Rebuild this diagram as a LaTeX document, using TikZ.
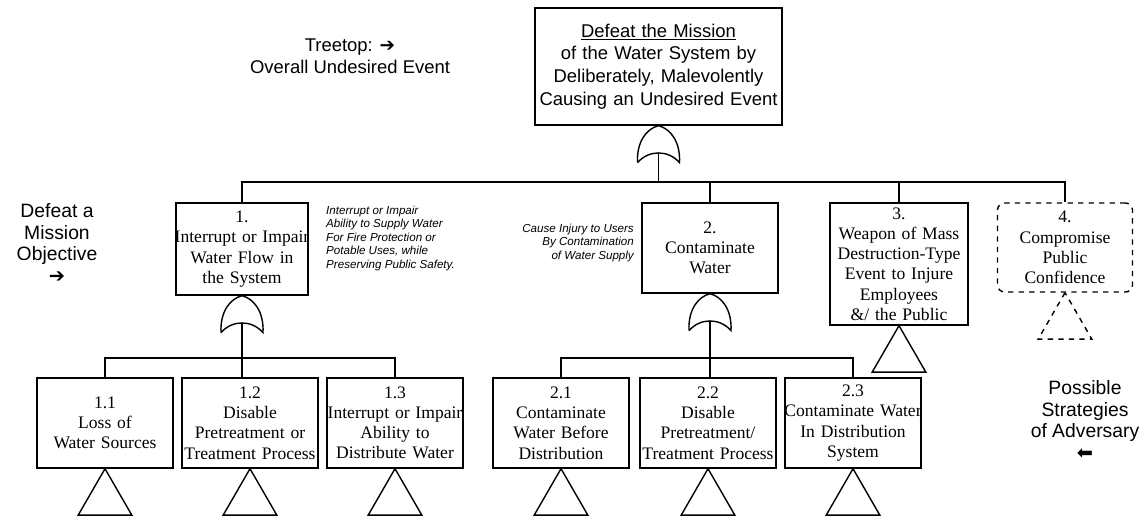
\documentclass[tikz,border=0pt]{standalone}
\usepackage{fontspec}
\setmainfont{Liberation Serif}
\setsansfont{Liberation Sans}
\newfontfamily\arrowfont{DejaVu Sans}
\usetikzlibrary{shapes.geometric}

% OR gate pointing up, apex at #1; stem coordinate #1s
\newcommand{\orgate}[1]{%
  \draw[gate, shift={(#1)}] (-21,37) .. controls (-22,16) and (-12,3) .. (0,0)
    .. controls (12,3) and (22,16) .. (21,37)
    .. controls (10,24) and (-10,24) .. (-21,37);
  \path[shift={(#1)}] (0,27) coordinate (#1s);}
% a line that may run to the box edges
\newcommand{\fitline}[1]{\makebox[\linewidth]{#1}}

\begin{document}
\begin{tikzpicture}[x=0.02cm, y=-0.02cm,
    evt/.style={draw, line width=0.8pt, align=center, inner sep=0pt,
      font=\fontsize{10}{11.5}\selectfont},
    lowbox/.style={evt, text width=2.72cm, minimum height=1.8cm},
    note/.style={font=\sffamily\fontsize{10.5}{12.5}\selectfont, align=center},
    aside/.style={font=\sffamily\itshape\fontsize{6.6}{7.6}\selectfont},
    link/.style={line width=0.8pt},
    gate/.style={line width=0.8pt},
    tri/.style={draw, line width=0.8pt, regular polygon, regular polygon sides=3,
      minimum size=1.24cm, inner sep=0pt, outer sep=0pt, anchor=corner 1}]
    \useasboundingbox (0,0) rectangle (1141,523);

    % treetop
    \node[evt, font=\sffamily\fontsize{10.5}{13}\selectfont, text width=4.94cm,
        minimum height=2.34cm] (top) at (658.5,66.5)
        {\underline{Defeat the Mission}\\of the Water System by\\Deliberately, Malevolently\\Causing an Undesired Event};
    \coordinate (g0) at (top.south);
    \orgate{g0}
    \coordinate (bus0) at (0,182);

    % mission objectives
    \node[evt, text width=2.64cm, minimum height=1.84cm] (m1) at (242,249)
        {1.\\\fitline{Interrupt or Impair}\\Water Flow in\\the System};
    \node[evt, text width=2.72cm, minimum height=1.8cm] (m2) at (710,248)
        {2.\\Contaminate\\Water};
    \node[evt, text width=2.76cm, minimum height=2.44cm] (m3) at (899,264)
        {3.\\Weapon of Mass\\\fitline{Destruction-Type}\\Event to Injure\\Employees\\\&/ the Public};
    \node[evt, dashed, rounded corners=4pt, text width=2.7cm, minimum height=1.78cm] (m4) at (1065,247.5)
        {4.\\Compromise\\Public\\Confidence};

    \draw[link] (g0s) -- (g0s |- bus0);
    \draw[link] (m1.north) -- (m1.north |- bus0) -- (m4.north |- bus0) -- (m4.north);
    \draw[link] (m2.north) -- (m2.north |- bus0);
    \draw[link] (m3.north) -- (m3.north |- bus0);

    \node[tri] (t3) at (m3.south) {};
    \node[tri, dashed] (t4) at (m4.south) {};

    % strategies
    \node[lowbox] (b11) at (105,423) {1.1\\Loss of\\Water Sources};
    \node[lowbox] (b12) at (250,423) {1.2\\Disable\\Pretreatment or\\\fitline{Treatment Process}};
    \node[lowbox] (b13) at (395,423) {1.3\\\fitline{Interrupt or Impair}\\Ability to\\Distribute Water};
    \node[lowbox] (b21) at (561,423) {2.1\\Contaminate\\Water Before\\Distribution};
    \node[lowbox] (b22) at (708,423) {2.2\\Disable\\Pretreatment/\\\fitline{Treatment Process}};
    \node[lowbox] (b23) at (853,423) {2.3\\\fitline{Contaminate Water}\\In Distribution\\System};
    \coordinate (bus1) at (0,358);

    \coordinate (g1) at (m1.south);
    \orgate{g1}
    \draw[link] (g1s) -- (g1s |- b12.north);
    \draw[link] (b11.north) -- (b11.north |- bus1) -- (b13.north |- bus1) -- (b13.north);

    \coordinate (g2) at (m2.south);
    \orgate{g2}
    \draw[link] (g2s) -- (g2s |- b22.north);
    \draw[link] (b21.north) -- (b21.north |- bus1) -- (b23.north |- bus1) -- (b23.north);

    \foreach \b in {b11,b12,b13,b21,b22,b23}
        \node[tri] (t\b) at (\b.south) {};

    % side notes
    \node[note] (treetop) at (350,56) {Treetop: {\arrowfont ➔}\\Overall Undesired Event};
    \node[note, font=\sffamily\fontsize{11}{12.5}\selectfont] (level1) at (57,243)
        {Defeat a\\Mission\\Objective\\{\arrowfont ➔}};
    \node[note, font=\sffamily\fontsize{11}{12.5}\selectfont] (level2) at (1085,420)
        {Possible\\Strategies\\of Adversary\\{\arrowfont ⬅}};
    \node[aside, align=left, anchor=north west] (why1) at (320,200)
        {Interrupt or Impair\\Ability to Supply Water\\For Fire Protection or\\Potable Uses, while\\Preserving Public Safety.};
    \node[aside, align=right, anchor=north east] (why2) at (640,218)
        {Cause Injury to Users\\By Contamination\\of Water Supply};
\end{tikzpicture}
\end{document}
